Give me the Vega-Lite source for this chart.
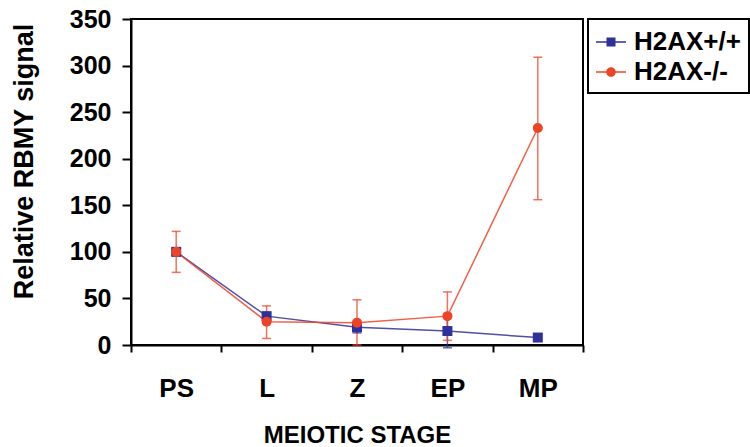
{
  "$schema": "https://vega.github.io/schema/vega-lite/v6.json",
  "width": 452,
  "height": 326,
  "autosize": {"type": "none"},
  "padding": {"left": 131, "top": 19, "right": 167, "bottom": 102},
  "background": "white",
  "data": {
    "values": [
      {"stage": "PS", "genotype": "H2AX+/+", "value": 100, "lo": 97, "hi": 103},
      {"stage": "L", "genotype": "H2AX+/+", "value": 31, "lo": 28, "hi": 34},
      {"stage": "Z", "genotype": "H2AX+/+", "value": 19, "lo": 13, "hi": 25},
      {"stage": "EP", "genotype": "H2AX+/+", "value": 15, "lo": -3, "hi": 33},
      {"stage": "MP", "genotype": "H2AX+/+", "value": 8, "lo": 4, "hi": 12},
      {"stage": "PS", "genotype": "H2AX-/-", "value": 100, "lo": 78, "hi": 122},
      {"stage": "L", "genotype": "H2AX-/-", "value": 25, "lo": 7, "hi": 42},
      {"stage": "Z", "genotype": "H2AX-/-", "value": 24, "lo": 0, "hi": 48.5},
      {"stage": "EP", "genotype": "H2AX-/-", "value": 31, "lo": 5, "hi": 57},
      {"stage": "MP", "genotype": "H2AX-/-", "value": 233, "lo": 156, "hi": 309}
    ]
  },
  "encoding": {
    "x": {
      "field": "stage", "type": "nominal", "sort": ["PS", "L", "Z", "EP", "MP"],
      "scale": {"paddingInner": 0, "paddingOuter": 0},
      "axis": {"title": "MEIOTIC STAGE", "labelAngle": 0, "tickBand": "extent", "tickSize": 7, "labelPadding": 23, "labelFontSize": 26, "titleFontSize": 24, "titlePadding": 22}
    },
    "y": {
      "field": "value", "type": "quantitative",
      "scale": {"domain": [0, 350], "nice": false, "zero": false},
      "axis": {"title": "Relative RBMY signal", "values": [0, 50, 100, 150, 200, 250, 300, 350], "grid": false, "tickSize": 9, "labelPadding": 11, "labelFontSize": 25, "titleFontSize": 27, "titlePadding": 31, "titleY": 142}
    }
  },
  "layer": [
    {
      "mark": {"type": "rule", "strokeWidth": 1.5, "opacity": 0.75},
      "encoding": {
        "y": {"field": "lo", "type": "quantitative"},
        "y2": {"field": "hi"},
        "color": {"condition": {"test": "datum.genotype == 'H2AX+/+'", "value": "#30309a"}, "value": "#ee4426"}
      }
    },
    {
      "mark": {"type": "tick", "size": 9, "thickness": 1.5, "opacity": 0.75, "orient": "horizontal"},
      "encoding": {
        "y": {"field": "lo", "type": "quantitative"},
        "color": {"condition": {"test": "datum.genotype == 'H2AX+/+'", "value": "#30309a"}, "value": "#ee4426"}
      }
    },
    {
      "mark": {"type": "tick", "size": 9, "thickness": 1.5, "opacity": 0.75, "orient": "horizontal"},
      "encoding": {
        "y": {"field": "hi", "type": "quantitative"},
        "color": {"condition": {"test": "datum.genotype == 'H2AX+/+'", "value": "#30309a"}, "value": "#ee4426"}
      }
    },
    {
      "mark": {"type": "line", "strokeWidth": 1.5, "opacity": 0.85},
      "encoding": {
        "detail": {"field": "genotype", "type": "nominal"},
        "color": {"condition": {"test": "datum.genotype == 'H2AX+/+'", "value": "#30309a"}, "value": "#ee4426"}
      }
    },
    {
      "mark": {"type": "point", "filled": true, "opacity": 1, "size": 100},
      "encoding": {
        "shape": {"condition": {"test": "datum.genotype == 'H2AX+/+'", "value": "square"}, "value": "circle"},
        "color": {"condition": {"test": "datum.genotype == 'H2AX+/+'", "value": "#30309a"}, "value": "#ee4426"}
      }
    },
    {
      "transform": [{"filter": "datum.value < -100"}],
      "mark": {"type": "point", "filled": true, "opacity": 1, "size": 900, "strokeWidth": 0},
      "encoding": {
        "color": {
          "field": "genotype", "type": "nominal", "title": null,
          "scale": {"domain": ["H2AX+/+", "H2AX-/-"], "range": ["#30309a", "#ee4426"]}
        },
        "shape": {
          "field": "genotype", "type": "nominal", "title": null,
          "scale": {
            "domain": ["H2AX+/+", "H2AX-/-"],
            "range": [
              "M-1,-0.05H1V0.05H-1ZM-0.3,-0.3H0.3V0.3H-0.3Z",
              "M-1,-0.05H1V0.05H-1ZM-0.32,0A0.32,0.32,0,1,1,0.32,0A0.32,0.32,0,1,1,-0.32,0Z"
            ]
          }
        }
      }
    }
  ],
  "config": {
    "view": {"stroke": "black", "strokeWidth": 2},
    "font": "Liberation Sans",
    "axis": {
      "domainColor": "black", "domainWidth": 2, "tickColor": "black", "tickWidth": 2,
      "labelFont": "Liberation Sans", "labelFontWeight": "bold", "labelColor": "black",
      "titleFont": "Liberation Sans", "titleFontWeight": "bold", "titleColor": "black"
    },
    "legend": {
      "orient": "right", "offset": 5,
      "strokeColor": "black", "strokeWidth": 2, "padding": 8,
      "labelFont": "Liberation Sans", "labelFontWeight": "bold", "labelFontSize": 26, "labelColor": "black",
      "symbolSize": 900, "rowPadding": 2, "labelOffset": 8, "symbolStrokeWidth": 0
    }
  }
}
